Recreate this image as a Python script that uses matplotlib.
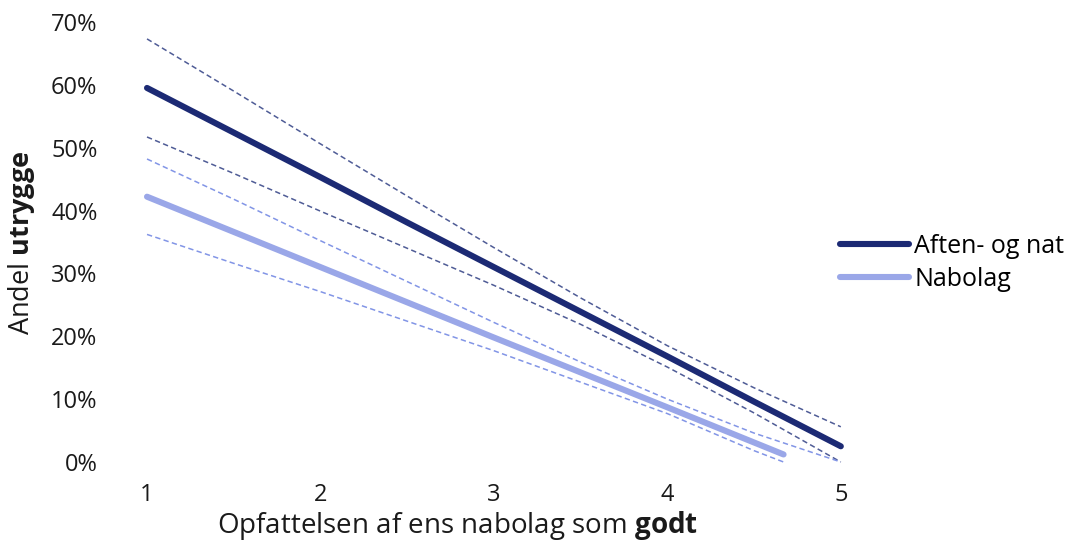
import matplotlib
matplotlib.use("Agg")
import matplotlib.pyplot as plt

plt.rcParams['font.family'] = ['Open Sans', 'DejaVu Sans']
plt.rcParams['mathtext.fontset'] = 'custom'
plt.rcParams['mathtext.rm'] = 'Open Sans'
plt.rcParams['mathtext.bf'] = 'Open Sans:bold'

# Aften- og nat (values in %)
x_dark = [1, 1.5, 2, 2.5, 3, 3.5, 4, 4.5, 5]
dark_mean = [59.5, 52.4, 45.3, 38.1, 31.0, 23.9, 16.8, 9.6, 2.5]
dark_upper = [67.3, 59.0, 50.6, 42.3, 34.1, 26.1, 18.5, 11.8, 5.6]
dark_lower = [51.7, 45.9, 39.9, 34.0, 28.1, 21.9, 15.1, 7.8, 0.0]

# Nabolag (values in %)
x_light_mean = [1, 2, 3, 4, 4.67]
light_mean = [42.2, 31.0, 19.8, 8.7, 1.2]
x_light_upper = [1, 1.5, 2, 2.5, 3, 3.5, 4, 4.5, 5]
light_upper = [48.2, 41.8, 35.2, 28.7, 22.2, 15.9, 10.0, 4.6, 0.0]
x_light_lower = [1, 1.5, 2, 2.5, 3, 3.5, 4, 4.5, 4.67]
light_lower = [36.2, 31.6, 27.1, 22.4, 17.7, 12.7, 7.7, 1.8, 0.0]

dark = "#1c2a74"
dark_dash = "#4f5c96"
light = "#9aa7e8"
light_dash = "#8295e6"
text_col = "#1a1a1a"

fig = plt.figure(figsize=(10.67, 5.51), dpi=100)
ax = fig.add_axes([0.1134, 0.1387, 0.699, 0.8443])

dash_kw = dict(linewidth=1.1, dashes=(3.5, 2.2))
ax.plot(x_dark, dark_upper, color=dark_dash, **dash_kw)
ax.plot(x_dark, dark_lower, color=dark_dash, **dash_kw)
ax.plot(x_light_upper, light_upper, color=light_dash, **dash_kw)
ax.plot(x_light_lower, light_lower, color=light_dash, **dash_kw)

ax.plot(x_light_mean, light_mean, color=light, linewidth=4.4,
        solid_capstyle='round', label="Nabolag")
ax.plot(x_dark, dark_mean, color=dark, linewidth=4.4,
        solid_capstyle='round', label="Aften- og nat")

ax.set_xlim(0.85, 5.15)
ax.set_ylim(-2, 72)
ax.set_xticks([1, 2, 3, 4, 5])
ax.set_yticks(range(0, 80, 10))
ax.set_yticklabels([f"{v}%" for v in range(0, 80, 10)])
ax.tick_params(axis='y', length=0, pad=17, labelsize=17, colors=text_col)
ax.tick_params(axis='x', length=0, pad=6, labelsize=17, colors=text_col)
for s in ax.spines.values():
    s.set_visible(False)

handles, labels = ax.get_legend_handles_labels()
ax.legend(handles[::-1], labels[::-1], loc='center left',
          bbox_to_anchor=(0.776, 0.523), bbox_transform=fig.transFigure,
          frameon=False, fontsize=18, handlelength=2.75, handletextpad=0.2,
          labelspacing=0.3, borderpad=0)

fig.text(22 / 1067, 1 - 243 / 551, r"Andel $\mathbf{utrygge}$", rotation=90,
         ha='center', va='center', fontsize=19.5, color=text_col)
fig.text(457 / 1067, 1 - 526 / 551, r"Opfattelsen af ens nabolag som $\mathbf{godt}$",
         ha='center', va='center', fontsize=20, color=text_col)

fig.savefig("out.png", dpi=100)
